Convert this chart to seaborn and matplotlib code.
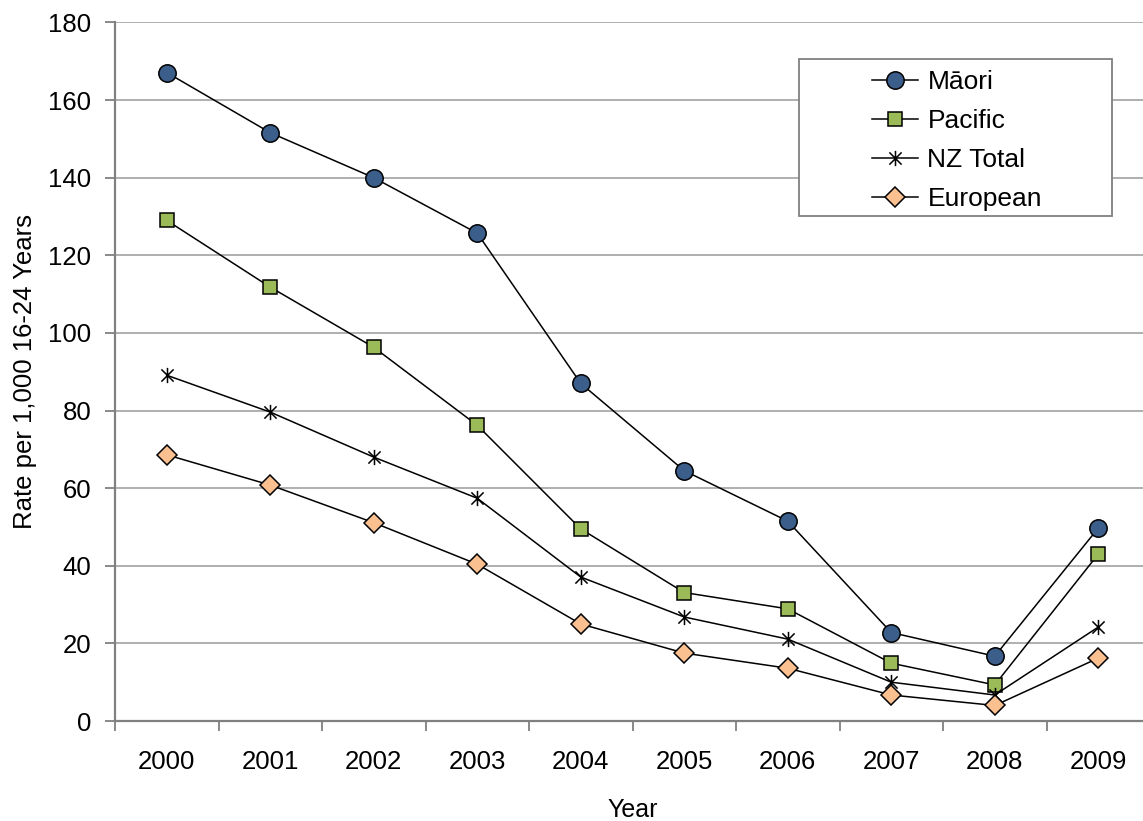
import matplotlib
matplotlib.use("Agg")
import matplotlib.pyplot as plt
from matplotlib.path import Path
from matplotlib.patches import Rectangle
import seaborn as sns
import pandas as pd

years = ["2000", "2001", "2002", "2003", "2004", "2005", "2006", "2007", "2008", "2009"]
maori = [167.1, 151.6, 140.0, 125.7, 87.0, 64.5, 51.5, 22.8, 16.7, 49.7]
pacific = [129.0, 111.8, 96.3, 76.2, 49.5, 33.1, 28.9, 14.9, 9.3, 43.0]
nz_total = [89.1, 79.6, 68.0, 57.4, 37.1, 26.8, 21.1, 10.0, 6.7, 24.2]
european = [68.6, 60.8, 51.1, 40.4, 25.0, 17.5, 13.6, 6.7, 4.0, 16.2]

series_names = ["Māori", "Pacific", "NZ Total", "European"]

# Excel-style "star" marker: vertical bar plus an X
star = Path(
    [(-1, -1), (1, 1), (-1, 1), (1, -1), (0, -1.25), (0, 1.25)],
    [Path.MOVETO, Path.LINETO, Path.MOVETO, Path.LINETO, Path.MOVETO, Path.LINETO],
)

styles = {
    "Māori": dict(marker="o", mfc="#3C5E8B", ms=12.5),
    "Pacific": dict(marker="s", mfc="#9BBB59", ms=10.5),
    "NZ Total": dict(marker=star, mfc="none", ms=11),
    "European": dict(marker="D", mfc="#FAC090", ms=10.5),
}

plt.rcParams["font.family"] = ["Liberation Sans", "DejaVu Sans"]

fig = plt.figure(figsize=(11.43, 8.21), dpi=100)
W, H = 1143, 821
ax = fig.add_axes([115 / W, (H - 721) / H, 1035 / W, (721 - 22.5) / H])

for name, vals in zip(series_names, [maori, pacific, nz_total, european]):
    df = pd.DataFrame({"Year": years, "Rate": vals})
    st = styles[name]
    sns.lineplot(
        data=df, x="Year", y="Rate", ax=ax, color="black", linewidth=1.1,
        marker=st["marker"], markersize=st["ms"], markerfacecolor=st["mfc"],
        markeredgecolor="black", markeredgewidth=1.1, label=name, legend=False,
        zorder=3,
    )

ax.set_xlim(-0.5, 9.5)
ax.set_ylim(0, 180)
ax.set_yticks(range(0, 181, 20))
ax.yaxis.grid(True, color="#9A9A9A", linewidth=1.1)
ax.set_axisbelow(True)

ax.set_xticks(range(len(years)))
ax.set_xticklabels(years)
ax.set_xticks([i - 0.5 for i in range(len(years) + 1)], minor=True)
ax.tick_params(axis="x", which="major", length=0, pad=21, labelsize=18.5)
ax.tick_params(axis="x", which="minor", length=7, width=1.3, color="#808080")
ax.tick_params(axis="y", length=7, width=1.3, color="#808080", labelsize=18.5, pad=10)

for side in ["top", "right"]:
    ax.spines[side].set_visible(False)
for side in ["left", "bottom"]:
    ax.spines[side].set_color("#808080")
    ax.spines[side].set_linewidth(1.6)

ax.set_xlabel("Year", fontsize=18, labelpad=17)
ax.set_ylabel("Rate per 1,000 16-24 Years", fontsize=18.5, labelpad=8)

# legend frame and entries
ax.add_patch(Rectangle(((799 - 115) / 1035, (721 - 216) / 698.5), 313 / 1035, 157 / 698.5,
                       transform=ax.transAxes, facecolor="white", edgecolor="#808080",
                       linewidth=1.3, zorder=4))
handles, labels = ax.get_legend_handles_labels()
leg = ax.legend(handles, labels, loc="upper left",
                bbox_to_anchor=((872 - 115) / 1035, (721 - 70) / 698.5),
                frameon=False, fontsize=19, handlelength=1.75, handletextpad=0.35,
                labelspacing=0.57, borderaxespad=0, borderpad=0)
leg.set_zorder(5)

fig.savefig("out.png", dpi=100)
